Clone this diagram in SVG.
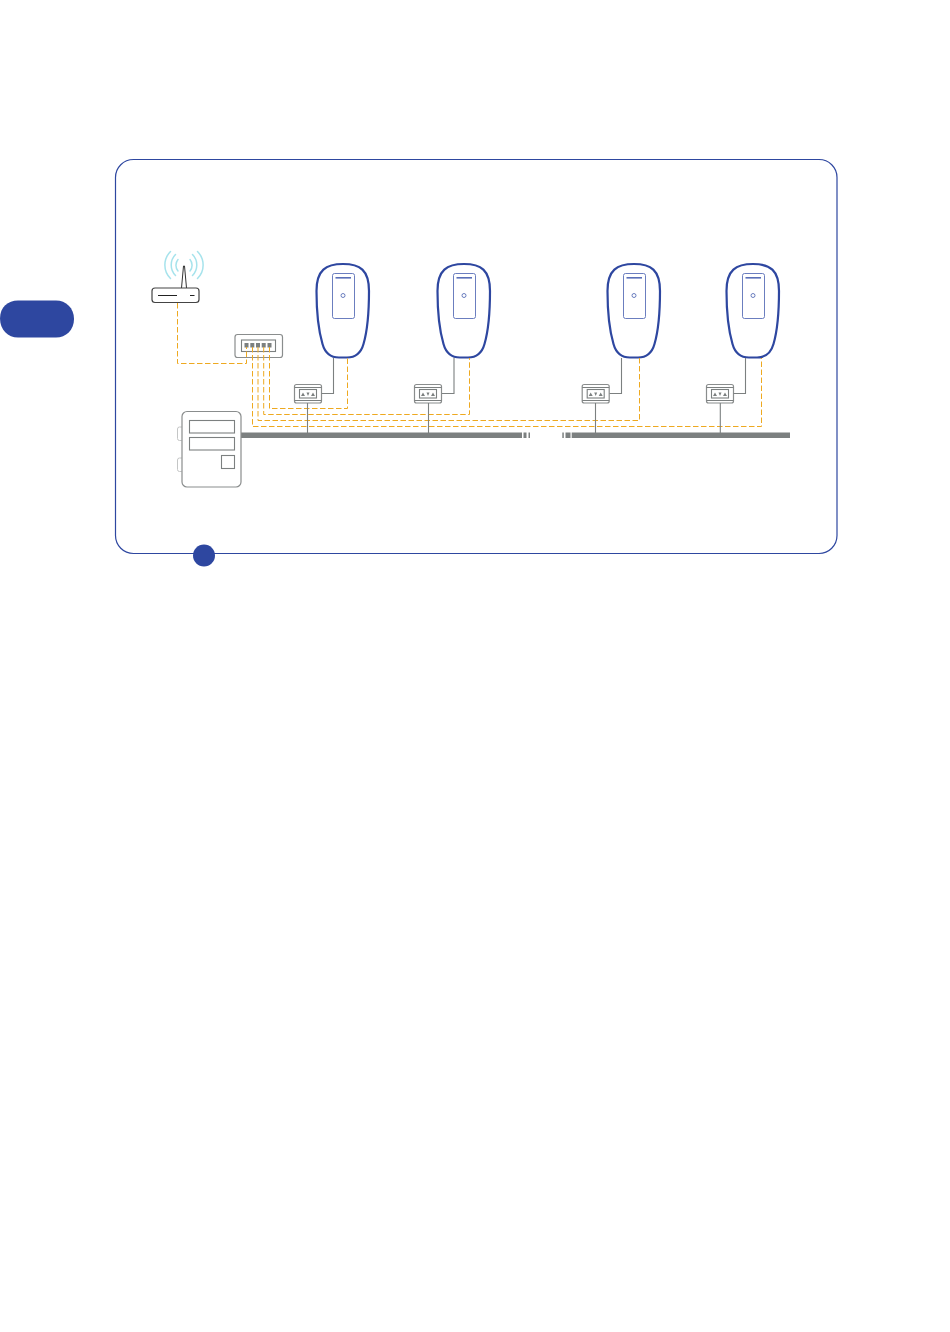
<svg xmlns="http://www.w3.org/2000/svg" xmlns:xlink="http://www.w3.org/1999/xlink" width="950" height="1332" viewBox="0 0 950 1332">
<style>
.blue{fill:#2e47a0}
.frame{fill:none;stroke:#2e47a0;stroke-width:1.2}
.body{fill:#fff;stroke:#2e47a0;stroke-width:2.2}
.thin{fill:none;stroke:#5a6fb8;stroke-width:.9}
.g{fill:none;stroke:#7c8080;stroke-width:1.1}
.gf{fill:#fff;stroke:#8a8d8d;stroke-width:1.2}
.gl{fill:#fff;stroke:#c4c6c6;stroke-width:1}
.or{fill:none;stroke:#eea920;stroke-width:1;stroke-dasharray:5.5 2.5}
.bar{fill:#7c8080}
.wifi{fill:none;stroke:#a6e3ec;stroke-width:1.5;stroke-linecap:round}
</style>
<defs>
<g id="charger">
<path class="body" d="M343,264C360,264 369,270 369,291C369,312 367,332 363.500,344C361,353 355,357.500 347,357.500L339,357.500C331,357.500 325,353 322.500,344C319,332 316.500,312 316.500,291C316.500,270 326,264 343,264Z"/>
<rect class="thin" x="332.500" y="273.500" width="22" height="45" rx="2"/>
<rect x="335.500" y="277" width="15.500" height="1.600" fill="#5a6fb8"/>
<circle class="thin" cx="343" cy="295.500" r="2"/>
</g>
<g id="box">
<rect class="gf" x="294.500" y="384.500" width="27" height="18.500" rx="2"/>
<path class="g" d="M294.500,387.500H321.500M294.500,400.500H321.500"/>
<rect class="g" x="299.500" y="389.500" width="17" height="8.500"/>
<path d="M301,396L303,392.500L305,396ZM306.500,392.500H309.500L308,396ZM311,396L313,392.500L315,396Z" fill="#7c8080"/>
</g>
</defs>
<rect width="950" height="1332" fill="#fff"/>
<path id="tab" class="blue" d="M0,318.500C0,307 8,300.500 18,300.500H56C66,300.500 74,308 74,319C74,330 66,337.500 56,337.500H18C8,337.500 0,330 0,318.500Z"/>
<g id="panel">
<rect class="frame" x="115.500" y="159.500" width="721.500" height="394" rx="18"/>
<circle class="blue" cx="204" cy="555.500" r="11"/>
</g>
<g id="bus">
<rect class="bar" x="241" y="432.500" width="281" height="5.500"/>
<rect class="bar" x="523.500" y="432.500" width="3" height="5.500"/>
<rect class="bar" x="528.500" y="432.500" width="1.500" height="5.500"/>
<rect class="bar" x="562.300" y="432.500" width="1.500" height="5.500"/>
<rect class="bar" x="565.500" y="432.500" width="5" height="5.500"/>
<rect class="bar" x="571.700" y="432.500" width="218.300" height="5.500"/>
</g>
<g id="router">
<path class="wifi" d="M178,259.500A9,9 0 0 0 178,271M190,259.500A9,9 0 0 1 190,271"/>
<path class="wifi" d="M175.500,254.500A15,15 0 0 0 175.500,275.500M192.500,254.500A15,15 0 0 1 192.500,275.500"/>
<path class="wifi" d="M170.500,251.500A19,19 0 0 0 170.500,278.500M197.500,251.500A19,19 0 0 1 197.500,278.500"/>
<path d="M181.500,288L183.500,266H184.500L186.500,288" fill="#fff" stroke="#333" stroke-width="1"/>
<rect x="152" y="288" width="47" height="14.500" rx="3" fill="#fff" stroke="#444" stroke-width="1.200"/>
<path d="M158,295.500H177M190,295.500H194.500" stroke="#222" stroke-width="1" fill="none"/>
</g>
<g id="switch">
<rect class="gf" x="235" y="334.500" width="47.500" height="23" rx="2.500"/>
<rect class="g" x="241.500" y="340" width="34" height="11.500"/>
<g fill="#7c8080"><rect x="244.500" y="343" width="4" height="4.500"/><rect x="250.300" y="343" width="4" height="4.500"/><rect x="256" y="343" width="4" height="4.500"/><rect x="261.700" y="343" width="4" height="4.500"/><rect x="267.500" y="343" width="4" height="4.500"/></g>
</g>
<g id="meter">
<rect class="gl" x="177.500" y="427" width="6" height="13.500" rx="2"/>
<rect class="gl" x="177.500" y="458" width="6" height="13.500" rx="2"/>
<rect class="gf" x="182" y="411.500" width="59" height="75.500" rx="5"/>
<rect class="g" x="189.500" y="420.500" width="45" height="12.500"/>
<rect class="g" x="189.500" y="437.500" width="45" height="12.500"/>
<rect class="g" x="221.500" y="455.500" width="13" height="13"/>
</g>
<g id="charger1"><use xlink:href="#charger" href="#charger"/></g>
<g id="charger2"><use xlink:href="#charger" href="#charger" x="121"/></g>
<g id="charger3"><use xlink:href="#charger" href="#charger" x="291"/></g>
<g id="charger4"><use xlink:href="#charger" href="#charger" x="410"/></g>
<g id="box1"><use xlink:href="#box" href="#box"/></g>
<g id="box2"><use xlink:href="#box" href="#box" x="120"/></g>
<g id="box3"><use xlink:href="#box" href="#box" x="287.700"/></g>
<g id="box4"><use xlink:href="#box" href="#box" x="412"/></g>
<g id="connectors">
<path class="or" d="M177.500,303V363.500H246.500V347"/>
<path class="or" d="M252.500,347V426.500H761.500V358"/>
<path class="or" d="M258,347V420.500H639.500V358"/>
<path class="or" d="M263.700,347V414.500H469.500V358"/>
<path class="or" d="M269.500,347V408.500H347.500V358"/>
<path class="g" d="M321.500,393.500H333.500V358M307.500,403V433"/>
<path class="g" d="M442,393.500H454V358M428.500,403V433"/>
<path class="g" d="M609.500,393.500H621.500V358M595.500,403V433"/>
<path class="g" d="M733.500,393.500H745.500V358M720.300,403V433"/>
</g>
</svg>
